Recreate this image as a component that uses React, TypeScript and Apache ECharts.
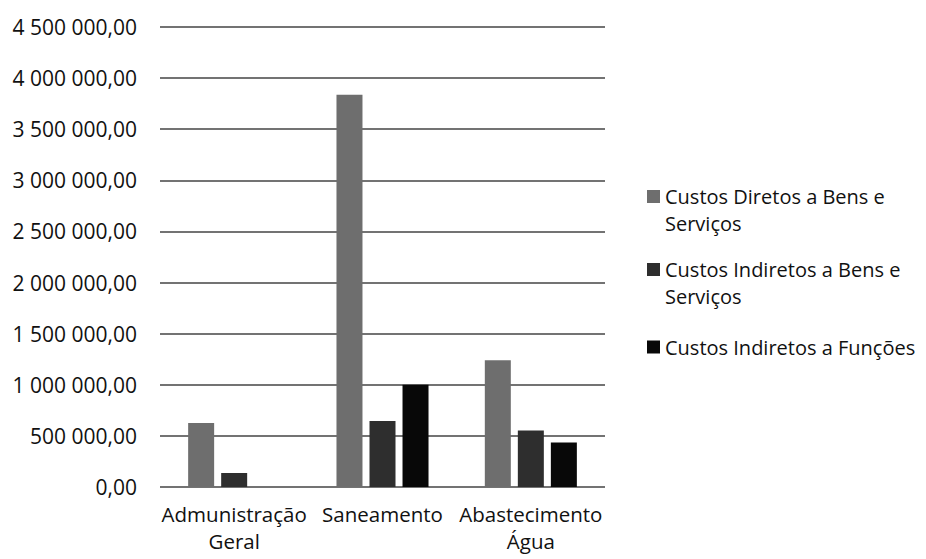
import React, { useEffect, useRef } from "react";
import * as echarts from "echarts";

const categories = ["Admunistração\nGeral", "Saneamento", "Abastecimento\nÁgua"];
const seriesNames = [
  "Custos Diretos a Bens e Serviços",
  "Custos Indiretos a Bens e Serviços",
  "Custos Indiretos a Funções",
];
const diretos = [627000, 3838000, 1240000];
const indiretosBens = [137000, 645000, 552000];
const indiretosFuncoes = [0, 1000000, 436000];
const yTicks = { min: 0, max: 4500000, interval: 500000 };

const FONT = "'Open Sans', sans-serif";

function fmt(v: number): string {
  return String(Math.round(v)).replace(/\B(?=(\d{3})+(?!\d))/g, " ") + ",00";
}

const legendText = { fontFamily: FONT, fontSize: 20, lineHeight: 27, color: "#111" };
const topSquare = "path://M0,0h13v13H0Z M13,40";

export default function App() {
  const ref = useRef<HTMLDivElement>(null);
  useEffect(() => {
    if (!ref.current) return;
    const chart = echarts.init(ref.current, undefined, { renderer: "svg" });
    const colors = ["#6e6e6e", "#2e2e2e", "#080808"];
    const values = [diretos, indiretosBens, indiretosFuncoes];
    const wrap = (name: string) => name.replace(" Serviços", "\nServiços");
    chart.setOption({
      animation: false,
      backgroundColor: "#ffffff",
      textStyle: { fontFamily: FONT },
      grid: { left: 160, right: 321, top: 27, bottom: 72, containLabel: false },
      legend: [
        {
          left: 647, top: 183, padding: 0, itemWidth: 13, itemHeight: 40,
          icon: topSquare, formatter: wrap, textStyle: legendText,
          data: [seriesNames[0]],
        },
        {
          left: 647, top: 256, padding: 0, itemWidth: 13, itemHeight: 40,
          icon: topSquare, formatter: wrap, textStyle: legendText,
          data: [seriesNames[1]],
        },
        {
          left: 647, top: 333.5, padding: 0, itemWidth: 13, itemHeight: 13,
          icon: "rect", textStyle: legendText,
          data: [seriesNames[2]],
        },
      ],
      xAxis: {
        type: "category",
        data: categories,
        axisLine: { show: false },
        axisTick: { show: false },
        axisLabel: {
          margin: 13,
          fontFamily: FONT,
          fontSize: 20.5,
          lineHeight: 27,
          color: "#111",
          interval: 0,
        },
      },
      yAxis: {
        type: "value",
        min: yTicks.min,
        max: yTicks.max,
        interval: yTicks.interval,
        axisLine: { show: false },
        axisTick: { show: false },
        axisLabel: {
          margin: 23,
          fontFamily: FONT,
          fontSize: 21,
          color: "#111",
          formatter: (v: number) => fmt(v),
        },
        splitLine: { lineStyle: { color: "#444444", width: 1.5 } },
      },
      series: seriesNames.map((name, i) => ({
        name,
        type: "bar",
        data: values[i],
        barWidth: 26,
        barGap: "27%",
        itemStyle: { color: colors[i] },
      })),
    });
    return () => chart.dispose();
  }, []);
  return (
    <div
      ref={ref}
      style={{ position: "fixed", left: 0, top: 0, width: 926, height: 559 }}
    />
  );
}
